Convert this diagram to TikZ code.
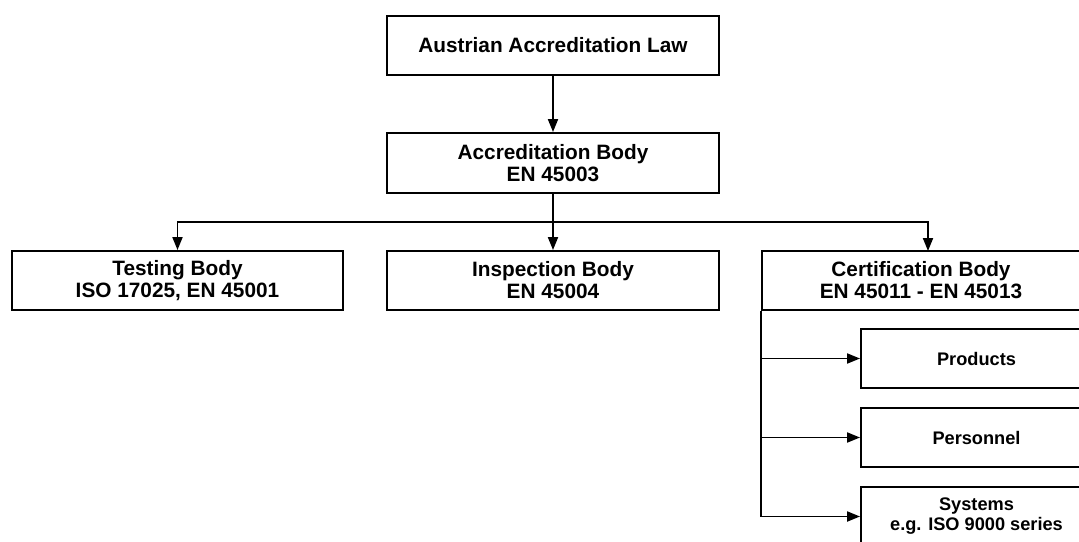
\documentclass[tikz,border=0pt]{standalone}
\usepackage{fontspec}
\setmainfont{Liberation Sans}
\usetikzlibrary{arrows.meta}
\begin{document}
\begin{tikzpicture}[x=1pt,y=-1pt,
 box/.style={draw, line width=1.9pt, rectangle, inner sep=0pt, align=center, font=\bfseries\fontsize{20.8}{22}\selectfont},
 sbox/.style={box, font=\bfseries\fontsize{18.2}{20}\selectfont},
 arr/.style={line width=1.9pt, -{Triangle[length=13pt,width=10pt]}},
 ln/.style={line width=1.9pt}]
\useasboundingbox (0,0) rectangle (1079,541);
\clip (0,0) rectangle (1079,541);
\node[box, minimum width=332pt, minimum height=59pt] (law) at (553,45.5) {Austrian Accreditation Law};
\node[box, minimum width=332pt, minimum height=60pt] (acc) at (553,163) {Accreditation Body\\EN 45003};
\node[box, minimum width=331pt, minimum height=59pt] (test) at (177.5,280.5) {Testing Body\\ISO 17025, EN 45001};
\node[box, minimum width=332pt, minimum height=59pt] (insp) at (553,280.5) {Inspection Body\\EN 45004};
\node[box, minimum width=318pt, minimum height=59pt] (cert) at (921,280.5) {Certification Body\\EN 45011 - EN 45013};
\node[sbox, minimum width=231pt, minimum height=59pt] (prod) at (976.5,358.5) {Products};
\node[sbox, minimum width=231pt, minimum height=59pt] (pers) at (976.5,437.5) {Personnel};
\node[sbox, minimum width=231pt, minimum height=59pt] (sys) at (976.5,516.5) {Systems\\e.g. ISO 9000 series};
\coordinate (bus) at (553,222);
\coordinate (certin) at (928,251);
\draw[arr] (law) -- (acc);
\draw[ln] (acc.south) -- (bus);
\draw[arr] (bus) -- (insp.north);
\draw[arr] (bus) -| (test.north);
\draw[arr] (bus) -| (certin);
\draw[ln] (cert.south west) -- (cert.south west |- sys.west);
\draw[arr] (cert.south west |- prod.west) -- (prod.west);
\draw[arr] (cert.south west |- pers.west) -- (pers.west);
\draw[arr] (cert.south west |- sys.west) -- (sys.west);
\end{tikzpicture}
\end{document}
